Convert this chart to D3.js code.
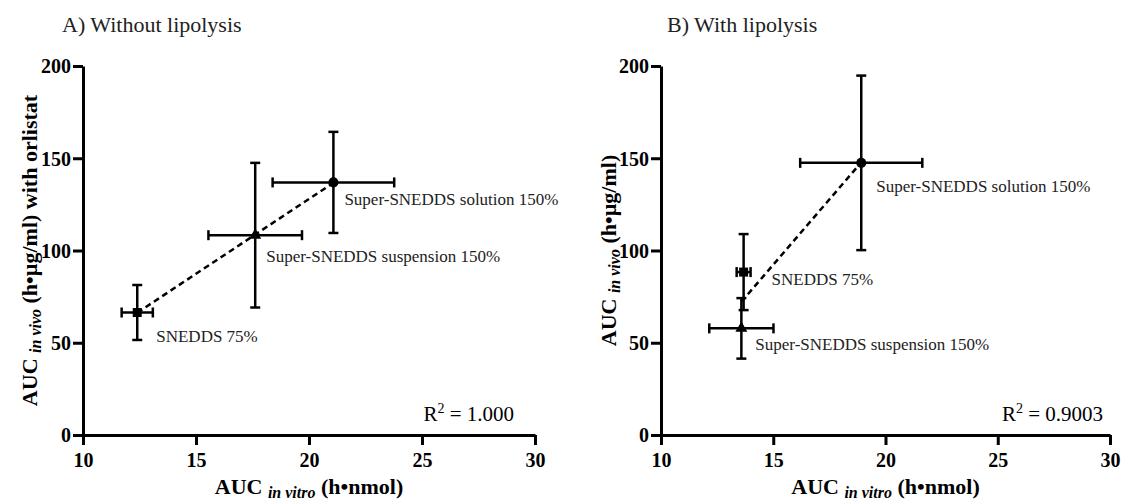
<!DOCTYPE html>
<html>
<head>
<meta charset="utf-8">
<script src="https://cdn.jsdelivr.net/npm/d3@7"></script>
<style>
  html, body { margin: 0; padding: 0; background: #fff; }
  svg { display: block; }
  svg text { font-family: "Liberation Serif", "Times New Roman", serif !important; }
</style>
</head>
<body>
<svg id="chart" width="1122" height="502" font-family="Liberation Serif, serif"></svg>
<script>
// ---------------- DATA ----------------
const formulations = ["SNEDDS 75%", "Super-SNEDDS suspension 150%", "Super-SNEDDS solution 150%"];
const markerShapes = ["square", "triangle", "circle"];

const xTicks = [10, 15, 20, 25, 30];
const yTicks = [0, 50, 100, 150, 200];

// Panel A: without lipolysis
const aInVitro    = [12.40, 17.62, 21.08];
const aInVitroErr = [0.69, 2.07, 2.69];
const aInVivo     = [66.4, 108.3, 136.9];
const aInVivoErr  = [14.9, 39.2, 27.4];
const aR2 = "1.000";

// Panel B: with lipolysis
const bInVitro    = [13.68, 13.58, 18.92];
const bInVitroErr = [0.31, 1.43, 2.72];
const bInVivo     = [88.3, 57.8, 147.5];
const bInVivoErr  = [20.6, 16.4, 47.3];
const bR2 = "0.9003";

// ---------------- DRAW ----------------
const FONT = "'Liberation Serif', 'Times New Roman', serif";
const svg = d3.select("#chart");

function linFit(xs, ys) {
  const n = xs.length;
  const mx = d3.mean(xs), my = d3.mean(ys);
  let sxy = 0, sxx = 0;
  for (let i = 0; i < n; i++) { sxy += (xs[i]-mx)*(ys[i]-my); sxx += (xs[i]-mx)*(xs[i]-mx); }
  const slope = sxy / sxx;
  return { slope, intercept: my - slope*mx };
}

const symbolMap = {
  square: d3.symbol().type(d3.symbolSquare).size(81),
  triangle: d3.symbol().type(d3.symbolTriangle).size(62),
  circle: d3.symbol().type(d3.symbolCircle).size(80)
};

function drawPanel(cfg) {
  const g = svg.append("g");
  const x = d3.scaleLinear().domain([10, 30]).range([cfg.x0, cfg.x1]);
  const y = d3.scaleLinear().domain([0, 200]).range([435, 66]);

  // Title
  g.append("text").attr("x", cfg.titleX).attr("y", 32)
    .style("font-family", FONT).style("font-size", "22px").attr("fill", "#222").text(cfg.title);

  // Axes
  const xAxis = g.append("g").attr("transform", `translate(0,${y(0)})`)
    .call(d3.axisBottom(x).tickValues(xTicks).tickSize(10).tickSizeOuter(0).tickPadding(4));
  const yAxis = g.append("g").attr("transform", `translate(${x(10)},0)`)
    .call(d3.axisLeft(y).tickValues(yTicks).tickSize(10).tickSizeOuter(0).tickPadding(2));
  [xAxis, yAxis].forEach(ax => {
    ax.attr("font-family", null).attr("font-size", null);
    ax.select(".domain").attr("stroke", "#000").attr("stroke-width", 3);
    ax.selectAll(".tick line").attr("stroke", "#000").attr("stroke-width", 3);
    ax.selectAll(".tick text").attr("fill", "#000")
      .style("font-family", FONT).style("font-size", "20px").style("font-weight", "bold");
  });
  xAxis.selectAll(".tick text").attr("dy", "0.9em");
  yAxis.selectAll(".tick text").attr("dy", "0.34em");

  // X axis title
  const xt = g.append("text").attr("x", (cfg.x0 + cfg.x1) / 2).attr("y", 494)
    .attr("text-anchor", "middle").style("font-family", FONT).style("font-size", "22px")
    .style("font-weight", "bold").attr("fill", "#000");
  xt.append("tspan").text("AUC ");
  xt.append("tspan").style("font-style", "italic").style("font-size", "16px").attr("dy", 4).text("in vitro");
  xt.append("tspan").attr("dy", -4).text(" (h\u2022nmol)");

  // Y axis title
  const yt = g.append("text")
    .attr("transform", `translate(${cfg.yTitleX},${(y(0)+y(200))/2}) rotate(-90)`)
    .attr("text-anchor", "middle").style("font-family", FONT).style("font-size", "22px")
    .style("font-weight", "bold").attr("fill", "#000");
  yt.append("tspan").text("AUC ");
  yt.append("tspan").style("font-style", "italic").style("font-size", "16px").attr("dy", 4).text("in vivo");
  yt.append("tspan").attr("dy", -4).text(" (h\u2022\u00b5g/ml)" + cfg.yTitleExtra);

  // Fit line (dashed)
  const fit = linFit(cfg.xs, cfg.ys);
  const xmin = d3.min(cfg.xs), xmax = d3.max(cfg.xs);
  g.append("line")
    .attr("x1", x(xmin)).attr("y1", y(fit.intercept + fit.slope*xmin))
    .attr("x2", x(xmax)).attr("y2", y(fit.intercept + fit.slope*xmax))
    .attr("stroke", "#000").attr("stroke-width", 2.5).attr("stroke-dasharray", "6,4");

  // Error bars + markers
  const cap = 5;
  cfg.xs.forEach((xv, i) => {
    const yv = cfg.ys[i], ex = cfg.xe[i], ey = cfg.ye[i];
    const eb = g.append("g").attr("stroke", "#000").attr("stroke-width", 2.5);
    eb.append("line").attr("x1", x(xv)).attr("x2", x(xv)).attr("y1", y(yv-ey)).attr("y2", y(yv+ey));
    eb.append("line").attr("x1", x(xv)-cap).attr("x2", x(xv)+cap).attr("y1", y(yv+ey)).attr("y2", y(yv+ey));
    eb.append("line").attr("x1", x(xv)-cap).attr("x2", x(xv)+cap).attr("y1", y(yv-ey)).attr("y2", y(yv-ey));
    eb.append("line").attr("x1", x(xv-ex)).attr("x2", x(xv+ex)).attr("y1", y(yv)).attr("y2", y(yv));
    eb.append("line").attr("x1", x(xv-ex)).attr("x2", x(xv-ex)).attr("y1", y(yv)-cap).attr("y2", y(yv)+cap);
    eb.append("line").attr("x1", x(xv+ex)).attr("x2", x(xv+ex)).attr("y1", y(yv)-cap).attr("y2", y(yv)+cap);
    g.append("path").attr("d", symbolMap[markerShapes[i]]())
      .attr("transform", `translate(${x(xv)},${y(yv)})`).attr("fill", "#000");
    g.append("text").attr("x", x(xv) + cfg.labelOff[i][0]).attr("y", y(yv) + cfg.labelOff[i][1])
      .style("font-family", FONT).style("font-size", "17px").attr("fill", "#222").text(formulations[i]);
  });

  // R^2
  const rt = g.append("text").attr("x", cfg.r2X).attr("y", 421).attr("text-anchor", "end")
    .style("font-family", FONT).style("font-size", "21px").attr("fill", "#000");
  rt.append("tspan").text("R");
  rt.append("tspan").style("font-size", "14px").attr("dy", -8).text("2");
  rt.append("tspan").attr("dy", 8).text(" = " + cfg.r2);
}

drawPanel({
  title: "A) Without lipolysis", titleX: 62,
  x0: 83, x1: 535, yTitleX: 37, yTitleExtra: " with orlistat",
  xs: aInVitro, xe: aInVitroErr, ys: aInVivo, ye: aInVivoErr,
  labelOff: [[19, 30], [11, 27], [11, 23]],
  r2: aR2, r2X: 514
});

drawPanel({
  title: "B) With lipolysis", titleX: 667,
  x0: 661, x1: 1110, yTitleX: 616, yTitleExtra: "",
  xs: bInVitro, xe: bInVitroErr, ys: bInVivo, ye: bInVivoErr,
  labelOff: [[28, 13], [14, 22], [15, 29]],
  r2: bR2, r2X: 1103
});
</script>
</body>
</html>
